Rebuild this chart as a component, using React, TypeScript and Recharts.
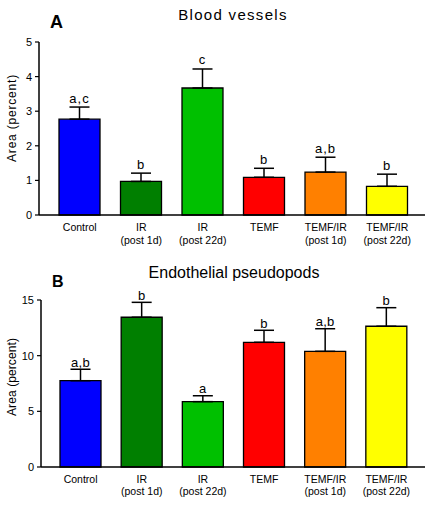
import React from 'react';
import { BarChart, Bar, XAxis, YAxis, ErrorBar, Cell, LabelList, Label } from 'recharts';

const FONT = '"Liberation Sans", Arial, Helvetica, sans-serif';

const categories = ['Control', 'IR\n(post 1d)', 'IR\n(post 22d)', 'TEMF', 'TEMF/IR\n(post 1d)', 'TEMF/IR\n(post 22d)'];
const colors = ['#0000FF', '#007F00', '#00C000', '#FF0000', '#FF8000', '#FFFF00'];

const bloodValues = [2.77, 0.97, 3.67, 1.09, 1.24, 0.83];
const bloodErrors = [0.35, 0.24, 0.55, 0.26, 0.43, 0.35];
const bloodLetters = ['a,c', 'b', 'c', 'b', 'a,b', 'b'];
const bloodTicks = [0, 1, 2, 3, 4, 5];

const pseudoValues = [7.75, 13.45, 5.87, 11.2, 10.39, 12.64];
const pseudoErrors = [1.03, 1.34, 0.53, 1.08, 2.03, 1.67];
const pseudoLetters = ['a,b', 'b', 'a', 'b', 'a,b', 'b'];
const pseudoTicks = [0, 5, 10, 15];

function buildData(values: number[], errors: number[], letters: string[]) {
  return categories.map((name, i) => ({
    name,
    value: values[i],
    err: [0, errors[i]],
    errUp: errors[i],
    letter: letters[i],
  }));
}

const bloodData = buildData(bloodValues, bloodErrors, bloodLetters);
const pseudoData = buildData(pseudoValues, pseudoErrors, pseudoLetters);

function makeXTick(first: number, gap: number) {
  return function XTick(props: any) {
    const { x, y, payload } = props;
    const lines = String(payload.value).split('\n');
    return (
      <g transform={`translate(${x},${y})`}>
        <text textAnchor="middle" fontSize={10.5} fontFamily={FONT} fill="#000">
          {lines.map((l, i) => (
            <tspan key={i} x={0} y={first + i * gap}>
              {l}
            </tspan>
          ))}
        </text>
      </g>
    );
  };
}

function makeYLabel(text: string, shift: number, fontSize: number, spacing: number) {
  return function YLabel(props: any) {
    const vb = props.viewBox || {};
    const cx = 16;
    const cy = Number(vb.y) + Number(vb.height) / 2 + shift;
    return (
      <text
        x={cx}
        y={cy}
        transform={`rotate(-90, ${cx}, ${cy})`}
        textAnchor="middle"
        fontSize={fontSize}
        fontFamily={FONT}
        letterSpacing={spacing}
        fill="#000"
      >
        {text}
      </text>
    );
  };
}

function makeLetter(data: any[], gap: number, spacing: number) {
  return function Letter(props: any) {
    const vb = props.viewBox || {};
    const x = Number(props.x ?? vb.x);
    const y = Number(props.y ?? vb.y);
    const w = Number(props.width ?? vb.width);
    const h = Number(props.height ?? vb.height);
    const d = data[props.index];
    if (!d) return null;
    const top = y - (h * d.errUp) / d.value;
    return (
      <text
        x={x + w / 2}
        y={top - gap}
        textAnchor="middle"
        fontSize={13}
        fontFamily={FONT}
        letterSpacing={spacing}
        fill="#000"
      >
        {props.value}
      </text>
    );
  };
}

function Panel(props: {
  data: any[];
  height: number;
  top: number;
  yWidth: number;
  xHeight: number;
  padL: number;
  padR: number;
  domainMax: number;
  ticks: number[];
  labelShift: number;
  labelSize: number;
  labelSpacing: number;
  letterGap: number;
  letterSpacing: number;
  tickFirst: number;
  tickGap: number;
}) {
  const p = props;
  return (
    <BarChart
      width={426}
      height={p.height}
      data={p.data}
      margin={{ top: p.top, right: 1, bottom: 0, left: 0 }}
      barSize={41}
    >
      <XAxis
        dataKey="name"
        interval={0}
        height={p.xHeight}
        padding={{ left: p.padL, right: p.padR }}
        tickLine={false}
        tickSize={0}
        tickMargin={0}
        axisLine={{ stroke: '#000', strokeWidth: 1.5 }}
        tick={makeXTick(p.tickFirst, p.tickGap)}
      />
      <YAxis
        width={p.yWidth}
        domain={[0, p.domainMax]}
        ticks={p.ticks}
        interval={0}
        tickSize={4}
        tickMargin={3}
        stroke="#000"
        axisLine={{ stroke: '#000', strokeWidth: 1.5 }}
        tickLine={{ stroke: '#000', strokeWidth: 1.2 }}
        tick={{ fontSize: 11, fill: '#000', fontFamily: FONT }}
      >
        <Label content={makeYLabel('Area (percent)', p.labelShift, p.labelSize, p.labelSpacing)} />
      </YAxis>
      <Bar dataKey="value" stroke="#000" strokeWidth={1.3} isAnimationActive={false}>
        {p.data.map((_, i) => (
          <Cell key={i} fill={colors[i]} />
        ))}
        <ErrorBar dataKey="err" width={10} stroke="#000" strokeWidth={1.5} direction="y" isAnimationActive={false} />
        <LabelList dataKey="letter" content={makeLetter(p.data, p.letterGap, p.letterSpacing)} />
      </Bar>
    </BarChart>
  );
}

export default function App() {
  return (
    <div style={{ position: 'absolute', left: 0, top: 0, width: 426, height: 511, background: '#fff', fontFamily: FONT }}>
      <div style={{ position: 'absolute', left: 0, top: 0 }}>
        <Panel
          data={bloodData}
          height={250}
          top={42}
          yWidth={39}
          xHeight={35}
          padL={10}
          padR={7}
          domainMax={5}
          ticks={bloodTicks}
          labelShift={-10.5}
          labelSize={12}
          labelSpacing={0.8}
          letterGap={4.5}
          letterSpacing={1}
          tickFirst={16}
          tickGap={12.5}
        />
      </div>
      <div style={{ position: 'absolute', left: 0, top: 250 }}>
        <Panel
          data={pseudoData}
          height={261}
          top={50}
          yWidth={41}
          xHeight={44}
          padL={9}
          padR={8}
          domainMax={15}
          ticks={pseudoTicks}
          labelShift={-6.5}
          labelSize={12}
          labelSpacing={0.1}
          letterGap={2.3}
          letterSpacing={0.3}
          tickFirst={15.7}
          tickGap={12}
        />
      </div>
      <div style={{ position: 'absolute', left: 50, top: 28 - 15.2, fontSize: 18, fontWeight: 'bold', lineHeight: '18px', color: '#000' }}>A</div>
      <div style={{ position: 'absolute', left: 133, width: 200, textAlign: 'center', top: 6.6, fontSize: 15, lineHeight: '15px', letterSpacing: 1.3, color: '#000' }}>
        Blood vessels
      </div>
      <div style={{ position: 'absolute', left: 52, top: 287 - 13.5, fontSize: 16, fontWeight: 'bold', lineHeight: '16px', color: '#000' }}>B</div>
      <div style={{ position: 'absolute', left: 134, width: 200, textAlign: 'center', top: 264.5, fontSize: 16, lineHeight: '16px', color: '#000' }}>
        Endothelial pseudopods
      </div>
    </div>
  );
}
